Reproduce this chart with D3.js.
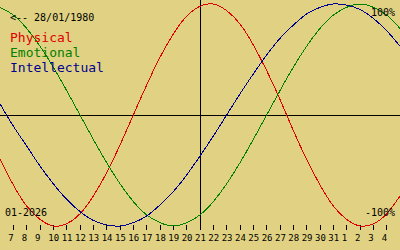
<!DOCTYPE html>
<html>
<head>
    <script src="https://cdnjs.cloudflare.com/ajax/libs/d3/7.8.5/d3.min.js"></script>
    <style>
        body { margin: 0; padding: 0; background: #e0d282; }
        svg { display: block; }
        text { font-family: "DejaVu Sans Mono", monospace; }
    </style>
</head>
<body>
    <svg id="chart" width="400" height="250"></svg>
    <script>
        // day offsets from the current date (21/01/2026), -15 .. +15
        const days = d3.range(-15, 16);
        const physical = [-0.40, -0.63, -0.82, -0.94, -1.00, -0.98, -0.89, -0.73, -0.52, -0.27, 0.00,
            0.27, 0.52, 0.73, 0.89, 0.98, 1.00, 0.94, 0.82, 0.63, 0.40, 0.14, -0.14, -0.40, -0.63,
            -0.82, -0.94, -1.00, -0.98, -0.89, -0.73];
        const emotional = [0.97, 0.90, 0.78, 0.62, 0.43, 0.22, 0.00, -0.22, -0.43, -0.62, -0.78,
            -0.90, -0.97, -1.00, -0.97, -0.90, -0.78, -0.62, -0.43, -0.22, 0.00, 0.22, 0.43, 0.62,
            0.78, 0.90, 0.97, 1.00, 0.97, 0.90, 0.78];
        const intellectual = [0.10, -0.10, -0.28, -0.46, -0.62, -0.76, -0.87, -0.95, -0.99, -1.00, -0.97,
            -0.91, -0.81, -0.69, -0.54, -0.37, -0.19, 0.00, 0.19, 0.37, 0.54, 0.69, 0.81, 0.91,
            0.97, 1.00, 0.99, 0.95, 0.87, 0.76, 0.62];
        // tick labels for offsets -14 .. +14
        const tickDays = d3.range(-14, 15);
        const tickLabels = ['7', '8', '9', '10', '11', '12', '13', '14', '15', '16', '17', '18', '19', '20',
            '21', '22', '23', '24', '25', '26', '27', '28', '29', '30', '31', '1', '2', '3', '4'];
        const series = [
            { name: 'Physical', values: physical, color: '#e00000' },
            { name: 'Emotional', values: emotional, color: '#008000' },
            { name: 'Intellectual', values: intellectual, color: '#000090' }
        ];

        const width = 400, height = 250;
        const svg = d3.select('#chart');

        const x = d3.scaleLinear().domain([-15, 15]).range([0, width]);
        const y = d3.scaleLinear().domain([-1, 1]).range([226, 4]);

        // axes
        svg.append('line')
            .attr('x1', 0).attr('x2', width)
            .attr('y1', y(0) + 0.5).attr('y2', y(0) + 0.5)
            .attr('stroke', '#000');
        svg.append('line')
            .attr('x1', x(0) + 0.5).attr('x2', x(0) + 0.5)
            .attr('y1', 0).attr('y2', 230)
            .attr('stroke', '#000');

        // ticks
        svg.append('g')
            .selectAll('line')
            .data(tickDays)
            .join('line')
            .attr('x1', d => Math.floor(x(d)) + 0.5)
            .attr('x2', d => Math.floor(x(d)) + 0.5)
            .attr('y1', 225).attr('y2', 230)
            .attr('stroke', '#000');

        svg.append('g')
            .selectAll('text')
            .data(tickDays)
            .join('text')
            .attr('x', d => x(d) - 5)
            .attr('y', 241)
            .attr('font-size', '9px')
            .attr('fill', '#000')
            .text((d, i) => tickLabels[i]);

        // curves
        const line = d3.line()
            .x((d, i) => x(days[i]))
            .y(d => y(d))
            .curve(d3.curveNatural);

        svg.append('g')
            .selectAll('path')
            .data(series)
            .join('path')
            .attr('d', d => line(d.values))
            .attr('fill', 'none')
            .attr('stroke', d => d.color)
            .attr('stroke-width', 1)
            .attr('shape-rendering', 'crispEdges');

        // texts
        svg.append('text')
            .attr('x', 10).attr('y', 21)
            .attr('font-size', '10px')
            .text('<-- 28/01/1980');

        svg.append('g')
            .selectAll('text')
            .data(series)
            .join('text')
            .attr('x', 10)
            .attr('y', (d, i) => 42 + i * 15)
            .attr('font-size', '13px')
            .attr('fill', d => d.color)
            .text(d => d.name);

        svg.append('text')
            .attr('x', 395).attr('y', 16)
            .attr('text-anchor', 'end')
            .attr('font-size', '10px')
            .text('100%');
        svg.append('text')
            .attr('x', 395).attr('y', 216)
            .attr('text-anchor', 'end')
            .attr('font-size', '10px')
            .text('-100%');
        svg.append('text')
            .attr('x', 5).attr('y', 216)
            .attr('font-size', '10px')
            .text('01-2026');
    </script>
</body>
</html>
